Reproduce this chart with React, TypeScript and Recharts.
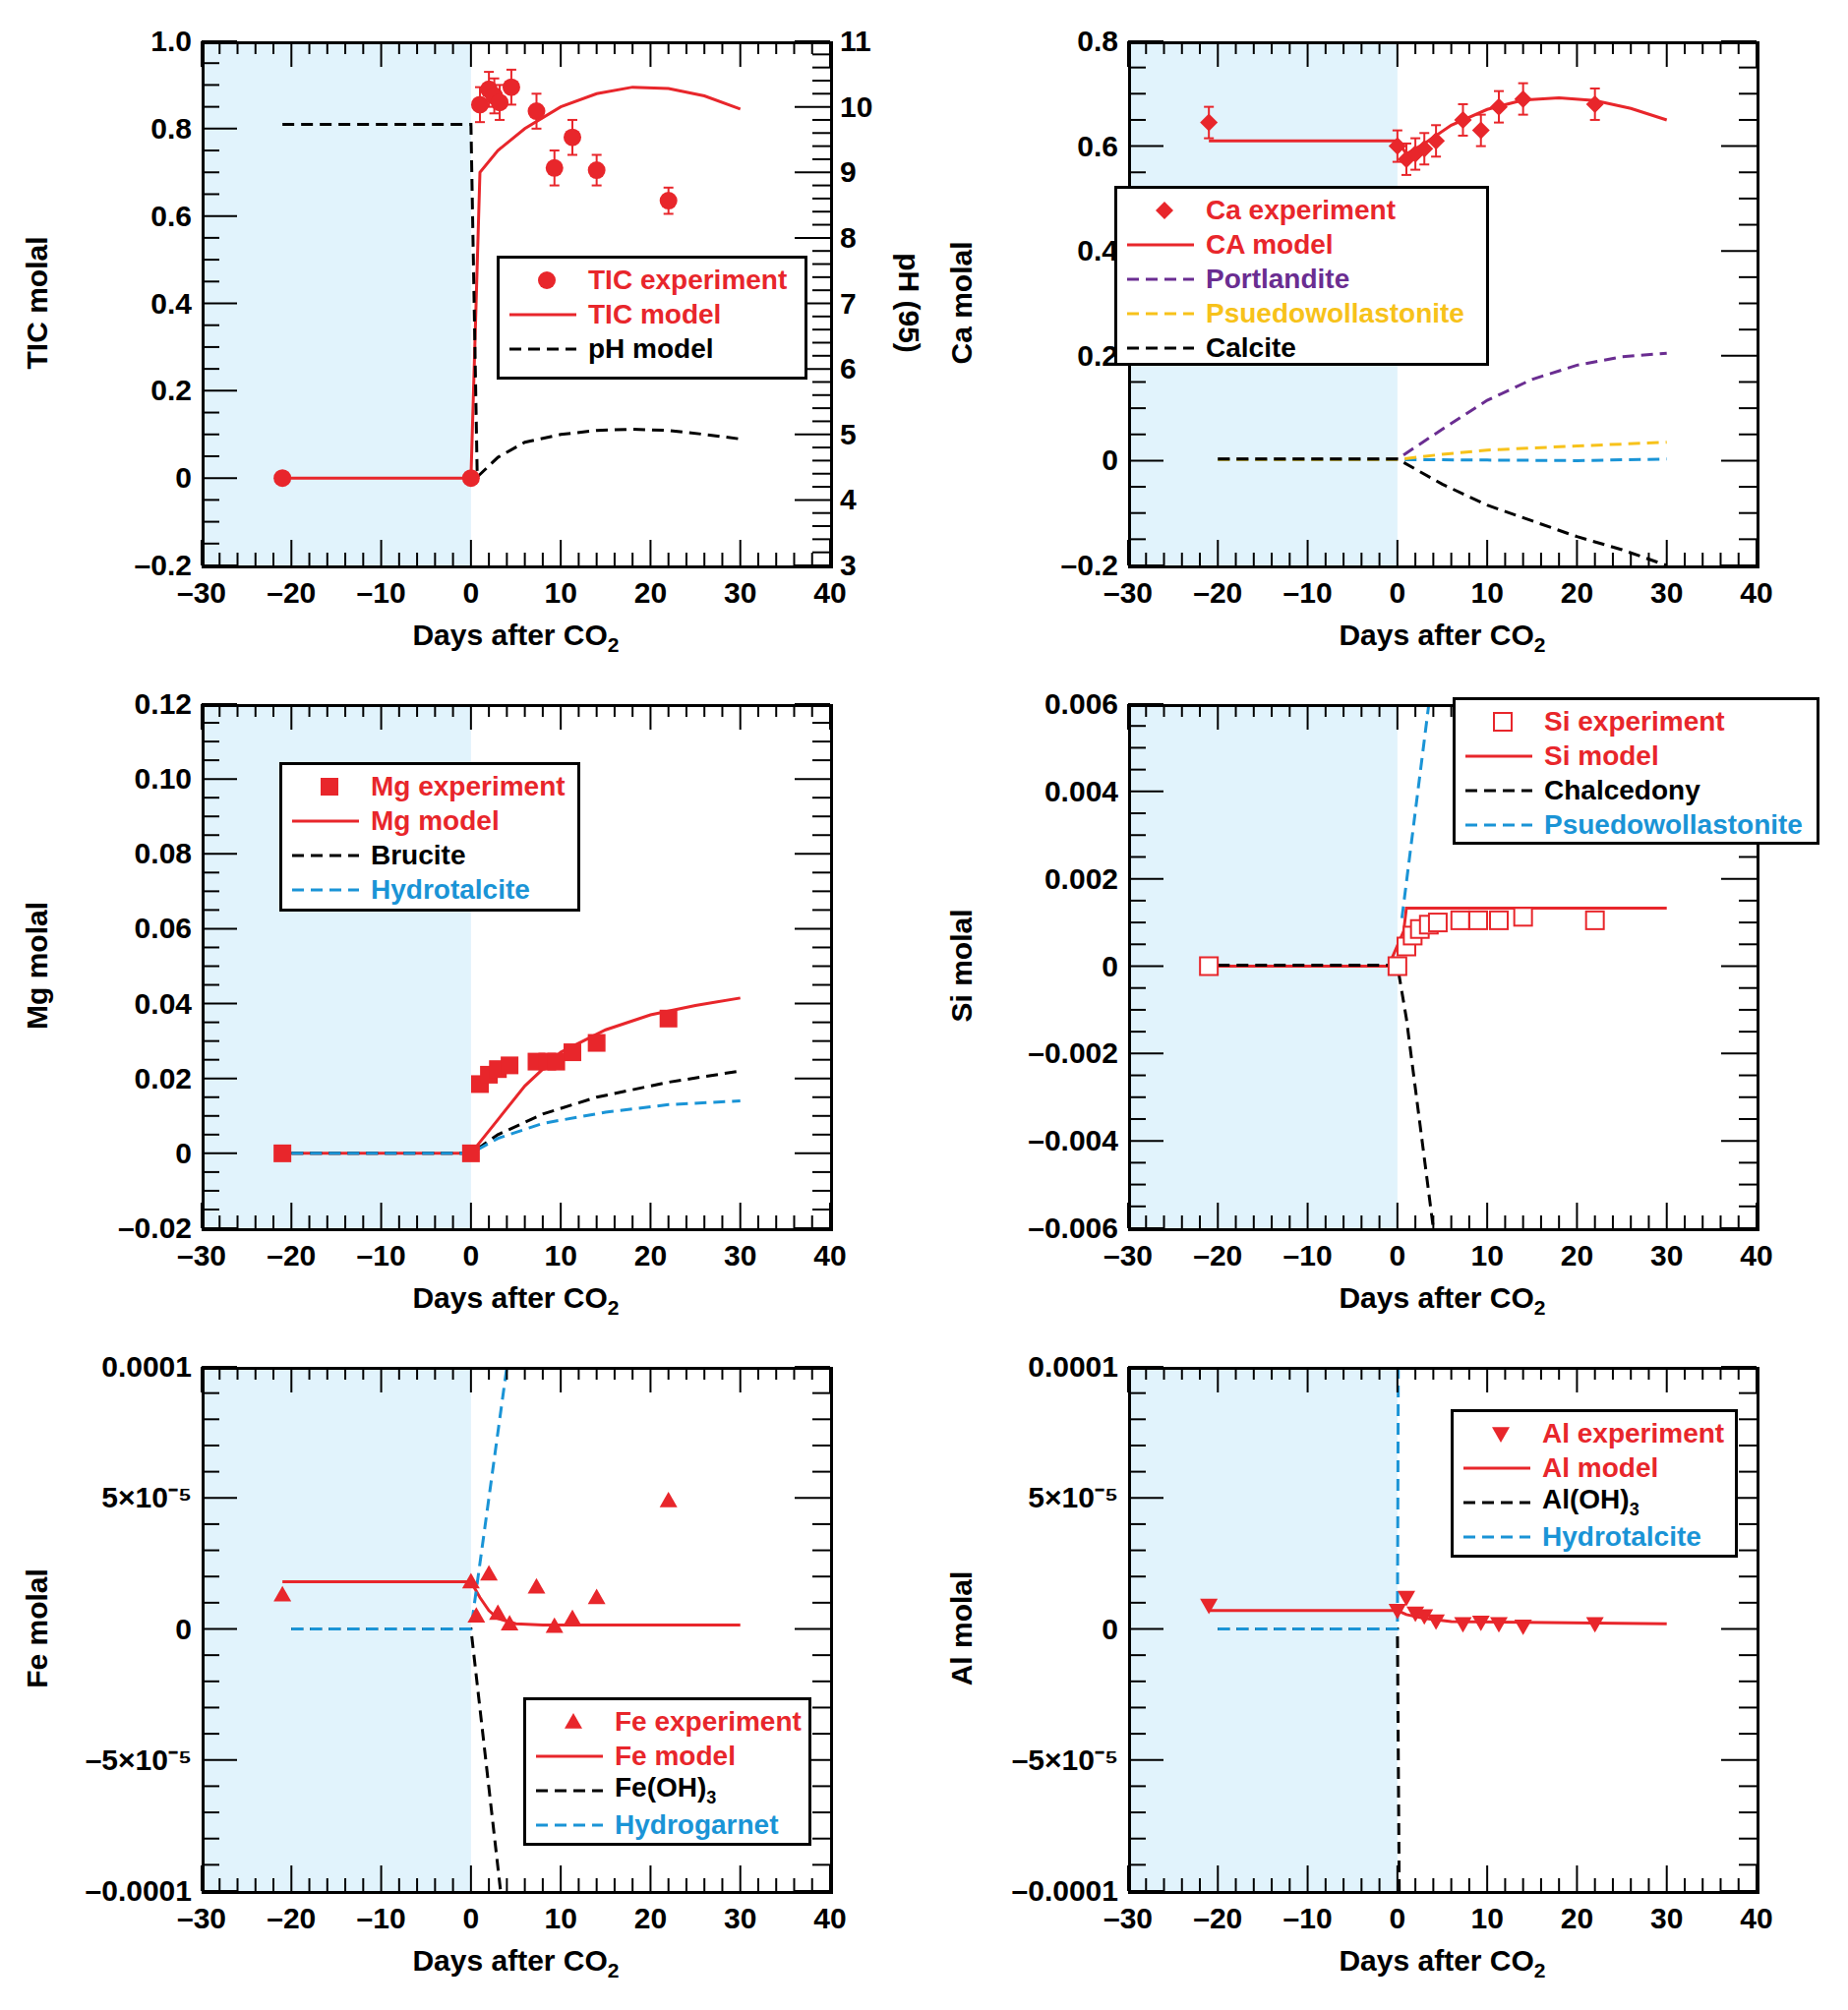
import React from "react";
import { ComposedChart, Line, Scatter, XAxis, YAxis, ReferenceArea, ErrorBar } from "recharts";

const RED = "#e8262b";
const BLUE = "#1a94d6";
const PURPLE = "#6a2d91";
const YELLOW = "#f7c21a";
const SHADE = "#e1f3fc";
const FONT = "'Liberation Sans', Arial, sans-serif";

// ---- data ----
const xTicks = [-30, -28, -26, -24, -22, -20, -18, -16, -14, -12, -10, -8, -6, -4, -2, 0, 2, 4, 6, 8, 10, 12, 14, 16, 18, 20, 22, 24, 26, 28, 30, 32, 34, 36, 38, 40];

const ticExp = [
  { x: -21, y: 0, e: 0 }, { x: 0, y: 0, e: 0 }, { x: 1, y: 0.855, e: 0.04 }, { x: 2, y: 0.89, e: 0.04 },
  { x: 2.6, y: 0.875, e: 0.04 }, { x: 3.2, y: 0.86, e: 0.04 }, { x: 4.5, y: 0.895, e: 0.04 },
  { x: 7.3, y: 0.84, e: 0.04 }, { x: 9.3, y: 0.71, e: 0.04 }, { x: 11.3, y: 0.78, e: 0.04 },
  { x: 14, y: 0.705, e: 0.035 }, { x: 22, y: 0.635, e: 0.03 },
];
const ticModel = [
  { x: -21, y: 0 }, { x: 0, y: 0 }, { x: 1, y: 0.7 }, { x: 3, y: 0.75 }, { x: 6, y: 0.8 }, { x: 10, y: 0.85 },
  { x: 14, y: 0.88 }, { x: 18, y: 0.895 }, { x: 22, y: 0.892 }, { x: 26, y: 0.875 }, { x: 30, y: 0.845 },
];
const phModel = [
  { x: -21, y: 9.73 }, { x: 0, y: 9.73 }, { x: 0.7, y: 4.35 }, { x: 3, y: 4.65 }, { x: 6, y: 4.88 },
  { x: 10, y: 5.0 }, { x: 14, y: 5.06 }, { x: 18, y: 5.08 }, { x: 22, y: 5.06 }, { x: 26, y: 5.0 }, { x: 30, y: 4.93 },
];

const caExp = [
  { x: -21, y: 0.645, e: 0.03 }, { x: 0, y: 0.6, e: 0.03 }, { x: 1, y: 0.575, e: 0.03 }, { x: 2, y: 0.585, e: 0.03 },
  { x: 3, y: 0.595, e: 0.03 }, { x: 4.3, y: 0.61, e: 0.03 }, { x: 7.3, y: 0.65, e: 0.03 }, { x: 9.3, y: 0.63, e: 0.03 },
  { x: 11.3, y: 0.675, e: 0.03 }, { x: 14, y: 0.69, e: 0.03 }, { x: 22, y: 0.68, e: 0.03 },
];
const caModel = [
  { x: -21, y: 0.61 }, { x: 0, y: 0.61 }, { x: 1, y: 0.585 }, { x: 3, y: 0.605 }, { x: 6, y: 0.64 }, { x: 10, y: 0.67 },
  { x: 14, y: 0.688 }, { x: 18, y: 0.692 }, { x: 22, y: 0.687 }, { x: 26, y: 0.672 }, { x: 30, y: 0.65 },
];
const portlandite = [
  { x: -20, y: 0.003 }, { x: 0, y: 0.003 }, { x: 5, y: 0.06 }, { x: 10, y: 0.115 }, { x: 15, y: 0.155 },
  { x: 20, y: 0.182 }, { x: 25, y: 0.198 }, { x: 30, y: 0.205 },
];
const caPseudo = [
  { x: -20, y: 0.002 }, { x: 0, y: 0.002 }, { x: 5, y: 0.012 }, { x: 10, y: 0.02 }, { x: 20, y: 0.028 }, { x: 30, y: 0.035 },
];
const caBlue = [
  { x: -20, y: 0.002 }, { x: 0, y: 0.002 }, { x: 10, y: 0.001 }, { x: 20, y: 0.0 }, { x: 30, y: 0.003 },
];
const calcite = [
  { x: -20, y: 0.003 }, { x: 0, y: 0.003 }, { x: 5, y: -0.045 }, { x: 10, y: -0.085 }, { x: 15, y: -0.115 },
  { x: 20, y: -0.145 }, { x: 25, y: -0.17 }, { x: 30, y: -0.2 },
];

const mgExp = [
  { x: -21, y: 0 }, { x: 0, y: 0 }, { x: 1, y: 0.0185 }, { x: 2, y: 0.021 }, { x: 3, y: 0.0225 }, { x: 4.3, y: 0.0235 },
  { x: 7.3, y: 0.0245 }, { x: 8.5, y: 0.0245 }, { x: 9.5, y: 0.0245 }, { x: 11.3, y: 0.027 }, { x: 14, y: 0.0295 }, { x: 22, y: 0.036 },
];
const mgModel = [
  { x: -20, y: 0 }, { x: 0, y: 0 }, { x: 3, y: 0.009 }, { x: 6, y: 0.018 }, { x: 10, y: 0.027 }, { x: 15, y: 0.033 },
  { x: 20, y: 0.037 }, { x: 25, y: 0.0395 }, { x: 30, y: 0.0415 },
];
const brucite = [
  { x: -20, y: 0 }, { x: 0, y: 0 }, { x: 3, y: 0.005 }, { x: 8, y: 0.0105 }, { x: 14, y: 0.015 }, { x: 22, y: 0.019 }, { x: 30, y: 0.022 },
];
const mgHydrotalcite = [
  { x: -20, y: 0 }, { x: 0, y: 0 }, { x: 3, y: 0.004 }, { x: 8, y: 0.008 }, { x: 15, y: 0.011 }, { x: 22, y: 0.013 }, { x: 30, y: 0.014 },
];

const siExp = [
  { x: -21, y: 0 }, { x: 0, y: 0 }, { x: 1, y: 0.00045 }, { x: 1.7, y: 0.0007 }, { x: 2.5, y: 0.00085 }, { x: 3.5, y: 0.00095 },
  { x: 4.5, y: 0.001 }, { x: 7, y: 0.00105 }, { x: 9, y: 0.00105 }, { x: 11.3, y: 0.00105 }, { x: 14, y: 0.00113 }, { x: 22, y: 0.00105 },
];
const siModel = [
  { x: -20, y: 0 }, { x: -1, y: 0 }, { x: 0.7, y: 0.0008 }, { x: 1, y: 0.00133 }, { x: 30, y: 0.00133 },
];
const chalcedony = [
  { x: -20, y: 0.00002 }, { x: 0, y: 0.00002 }, { x: 1, y: -0.0012 }, { x: 4, y: -0.006 },
];
const siPseudo = [
  { x: 0.5, y: 0.0011 }, { x: 3.5, y: 0.006 },
];

const feExp = [
  { x: -21, y: 1.3e-5 }, { x: 0, y: 1.8e-5 }, { x: 0.6, y: 0.5e-5 }, { x: 2, y: 2.1e-5 }, { x: 3, y: 0.6e-5 },
  { x: 4.3, y: 0.2e-5 }, { x: 7.3, y: 1.6e-5 }, { x: 9.3, y: 0.1e-5 }, { x: 11.3, y: 0.4e-5 }, { x: 14, y: 1.2e-5 }, { x: 22, y: 4.9e-5 },
];
const feModel = [
  { x: -21, y: 1.8e-5 }, { x: 0, y: 1.8e-5 }, { x: 1, y: 1.2e-5 }, { x: 2, y: 0.7e-5 }, { x: 3, y: 0.4e-5 },
  { x: 5, y: 0.2e-5 }, { x: 8, y: 0.15e-5 }, { x: 30, y: 0.15e-5 },
];
const feOH3 = [
  { x: -20, y: 0 }, { x: 0, y: 0 }, { x: 3.3, y: -1e-4 },
];
const hydrogarnet = [
  { x: -20, y: 0 }, { x: 0, y: 0 }, { x: 4, y: 1e-4 },
];

const alExp = [
  { x: -21, y: 0.9e-5 }, { x: 0, y: 0.7e-5 }, { x: 1, y: 1.2e-5 }, { x: 2, y: 0.6e-5 }, { x: 3, y: 0.5e-5 },
  { x: 4.3, y: 0.3e-5 }, { x: 7.3, y: 0.2e-5 }, { x: 9.3, y: 0.25e-5 }, { x: 11.3, y: 0.2e-5 }, { x: 14, y: 0.1e-5 }, { x: 22, y: 0.2e-5 },
];
const alModel = [
  { x: -21, y: 0.7e-5 }, { x: 0, y: 0.7e-5 }, { x: 1, y: 0.55e-5 }, { x: 3, y: 0.4e-5 }, { x: 6, y: 0.28e-5 }, { x: 30, y: 0.2e-5 },
];
const alOH3 = [
  { x: -20, y: 0 }, { x: 0, y: 0 }, { x: 0.2, y: -1e-4 },
];
const alHydrotalcite = [
  { x: -20, y: 0 }, { x: 0, y: 0 }, { x: 0.1, y: 1e-4 },
];

// ---- layout ----
const CW = 940;
const CH = 673;
const MT = 40;
const PW = 639;
const PH = 533;
const YW = 80;
const XH = 30;

function range(a: number, b: number, s: number) {
  const out: number[] = [];
  const n = Math.round((b - a) / s);
  for (let i = 0; i <= n; i++) out.push(+(a + i * s).toPrecision(10));
  return out;
}
function isMajor(v: number, m: number) {
  const r = v / m;
  return Math.abs(r - Math.round(r)) < 1e-6;
}

function Marker({ kind, cx, cy, color = RED }: any) {
  const s = 9;
  if (kind === "circle") return <circle cx={cx} cy={cy} r={s} fill={color} />;
  if (kind === "diamond")
    return <polygon points={`${cx},${cy - s} ${cx + s},${cy} ${cx},${cy + s} ${cx - s},${cy}`} fill={color} />;
  if (kind === "square") return <rect x={cx - s} y={cy - s} width={2 * s} height={2 * s} fill={color} />;
  if (kind === "open") return <rect x={cx - s} y={cy - s} width={2 * s} height={2 * s} fill="#fff" stroke={color} strokeWidth={2} />;
  if (kind === "tri")
    return <polygon points={`${cx},${cy - s} ${cx + s},${cy + s * 0.75} ${cx - s},${cy + s * 0.75}`} fill={color} />;
  return <polygon points={`${cx},${cy + s} ${cx + s},${cy - s * 0.75} ${cx - s},${cy - s * 0.75}`} fill={color} />;
}

type Series = { data: any[]; color: string; dash?: boolean; axis?: string };
type Entry = { label: React.ReactNode; color: string; kind?: string; line?: boolean; dash?: boolean };

function Panel(props: {
  left: number; top: number; pl: number; yDomain: [number, number]; yMajor: number; yMinor: number;
  yFmt: (v: number) => string; ylabel: string; exp: any[]; kind: string; err?: boolean; lines: Series[];
  legend: Entry[]; legendBox: { x: number; y: number; w: number; h: number }; ph?: boolean;
}) {
  const { pl } = props;
  const plotR = pl + PW;
  const plotB = MT + PH;
  const yTicks = range(props.yDomain[0], props.yDomain[1], props.yMinor);

  const XTick = ({ x, payload }: any) => {
    const v = payload.value;
    const maj = isMajor(v, 10);
    const len = maj ? 26 : 13;
    return (
      <g>
        <line x1={x} x2={x} y1={plotB} y2={plotB - len} stroke="#000" strokeWidth={2} />
        <line x1={x} x2={x} y1={MT} y2={MT + len} stroke="#000" strokeWidth={2} />
        {maj && (
          <text x={x} y={plotB + 38} textAnchor="middle" fontSize={30} fontWeight="bold" fontFamily={FONT}>
            {v < 0 ? `\u2013${-v}` : v}
          </text>
        )}
      </g>
    );
  };
  const YTick = ({ y, payload }: any) => {
    const v = payload.value;
    const maj = isMajor(v, props.yMajor);
    const len = maj ? 36 : 18;
    return (
      <g>
        <line x1={pl} x2={pl + len} y1={y} y2={y} stroke="#000" strokeWidth={2} />
        {!props.ph && <line x1={plotR} x2={plotR - len} y1={y} y2={y} stroke="#000" strokeWidth={2} />}
        {maj && (
          <text x={pl - 10} y={y + 10} textAnchor="end" fontSize={30} fontWeight="bold" fontFamily={FONT}>
            {props.yFmt(v)}
          </text>
        )}
      </g>
    );
  };
  const PhTick = ({ y, payload }: any) => {
    const v = payload.value;
    const maj = isMajor(v, 1);
    const len = maj ? 36 : 18;
    return (
      <g>
        <line x1={plotR} x2={plotR - len} y1={y} y2={y} stroke="#000" strokeWidth={2} />
        {maj && (
          <text x={plotR + 10} y={y + 10} textAnchor="start" fontSize={30} fontWeight="bold" fontFamily={FONT}>
            {v}
          </text>
        )}
      </g>
    );
  };

  const rightM = CW - pl - PW - (props.ph ? 60 : 0);
  return (
    <div style={{ position: "absolute", left: props.left, top: props.top, width: CW, height: CH }}>
      <ComposedChart width={CW} height={CH} margin={{ top: MT, right: rightM, bottom: CH - MT - PH - XH, left: pl - YW }}>
        <XAxis type="number" dataKey="x" domain={[-30, 40]} ticks={xTicks} interval={0} height={XH} tick={<XTick />} tickLine={false} axisLine={false} allowDataOverflow />
        <YAxis yAxisId="l" type="number" domain={props.yDomain} ticks={yTicks} interval={0} width={YW} tick={<YTick />} tickLine={false} axisLine={false} allowDataOverflow />
        {props.ph && (
          <YAxis yAxisId="ph" orientation="right" type="number" domain={[3, 11]} ticks={range(3, 11, 0.2)} interval={0} width={60} tick={<PhTick />} tickLine={false} axisLine={false} allowDataOverflow />
        )}
        <ReferenceArea yAxisId="l" x1={-30} x2={0} y1={props.yDomain[0]} y2={props.yDomain[1]} fill={SHADE} fillOpacity={1} stroke="none" />
        {props.lines.map((s, i) => (
          <Line key={i} yAxisId={s.axis || "l"} data={s.data} dataKey="y" type="linear" stroke={s.color} strokeWidth={3}
            strokeDasharray={s.dash ? "12 7" : undefined} dot={false} isAnimationActive={false} />
        ))}
        <Scatter yAxisId="l" data={props.exp} dataKey="y" isAnimationActive={false}
          shape={(p: any) => <Marker kind={props.kind} cx={p.cx} cy={p.cy} />}>
          {props.err && <ErrorBar dataKey="e" direction="y" width={5} stroke={RED} strokeWidth={2} />}
        </Scatter>
      </ComposedChart>
      <div style={{ position: "absolute", left: pl, top: MT, width: PW - 3, height: PH - 3, border: "3px solid #000", pointerEvents: "none" }} />
      <div style={{ position: "absolute", left: pl, width: PW, top: plotB + 54, textAlign: "center", fontFamily: FONT, fontWeight: "bold", fontSize: 30 }}>
        Days after CO<sub style={{ fontSize: 21 }}>2</sub>
      </div>
      <div style={{ position: "absolute", left: 38 - 200, width: 400, top: MT + PH / 2 - 18, textAlign: "center", transform: "rotate(-90deg)", fontFamily: FONT, fontWeight: "bold", fontSize: 30 }}>
        {props.ylabel}
      </div>
      {props.ph && (
        <div style={{ position: "absolute", left: plotR + 80 - 200, width: 400, top: MT + PH / 2 - 18, textAlign: "center", transform: "rotate(90deg)", fontFamily: FONT, fontWeight: "bold", fontSize: 30 }}>
          pH (95)
        </div>
      )}
      <div style={{ position: "absolute", left: props.legendBox.x, top: props.legendBox.y, width: props.legendBox.w, height: props.legendBox.h,
        border: "3px solid #000", background: "#fff", boxSizing: "border-box", padding: "4px 8px", fontFamily: FONT, fontWeight: "bold", fontSize: 28 }}>
        {props.legend.map((e, i) => (
          <div key={i} style={{ display: "flex", alignItems: "center", height: 35, color: e.color, whiteSpace: "nowrap" }}>
            <svg width={72} height={30} style={{ marginRight: 10, flex: "none" }}>
              {e.kind ? <Marker kind={e.kind} cx={40} cy={15} color={e.color} /> :
                <line x1={2} x2={70} y1={15} y2={15} stroke={e.color} strokeWidth={3} strokeDasharray={e.dash ? "12 7" : undefined} />}
            </svg>
            <span>{e.label}</span>
          </div>
        ))}
      </div>
    </div>
  );
}

const dec = (d: number) => (v: number) => (Math.abs(v) < 1e-12 ? "0" : v < 0 ? `\u2013${(-v).toFixed(d)}` : v.toFixed(d));
const sci = (v: number) => {
  if (Math.abs(v) < 1e-12) return "0";
  if (Math.abs(Math.abs(v) - 1e-4) < 1e-9) return v < 0 ? "\u20130.0001" : "0.0001";
  return v < 0 ? "\u20135\u00d710\u207b\u2075" : "5\u00d710\u207b\u2075";
};

export default function App() {
  const LX = 0;
  const RX = 940;
  const rows = [2, 676, 1350];
  return (
    <div style={{ position: "absolute", left: 0, top: 0, width: 1879, height: 2044, background: "#fff" }}>
      <Panel left={LX} top={rows[0]} pl={205} yDomain={[-0.2, 1.0]} yMajor={0.2} yMinor={0.05}
        yFmt={(v) => (Math.abs(v - 1) < 1e-9 ? "1.0" : Math.abs(v) < 1e-9 ? "0" : v < 0 ? `\u2013${(-v).toFixed(1)}` : v.toFixed(1))}
        ylabel="TIC molal" exp={ticExp} kind="circle" err ph
        lines={[{ data: ticModel, color: RED }, { data: phModel, color: "#000", dash: true, axis: "ph" }]}
        legend={[{ label: "TIC experiment", color: RED, kind: "circle" }, { label: "TIC model", color: RED }, { label: "pH model", color: "#000", dash: true }]}
        legendBox={{ x: 505, y: 258, w: 316, h: 126 }} />
      <Panel left={RX} top={rows[0]} pl={207} yDomain={[-0.2, 0.8]} yMajor={0.2} yMinor={0.05}
        yFmt={(v) => (Math.abs(v) < 1e-9 ? "0" : v < 0 ? `\u2013${(-v).toFixed(1)}` : v.toFixed(1))}
        ylabel="Ca molal" exp={caExp} kind="diamond" err
        lines={[{ data: caModel, color: RED }, { data: portlandite, color: PURPLE, dash: true }, { data: caBlue, color: BLUE, dash: true },
          { data: caPseudo, color: YELLOW, dash: true }, { data: calcite, color: "#000", dash: true }]}
        legend={[{ label: "Ca experiment", color: RED, kind: "diamond" }, { label: "CA model", color: RED },
          { label: "Portlandite", color: PURPLE, dash: true }, { label: "Psuedowollastonite", color: YELLOW, dash: true }, { label: "Calcite", color: "#000", dash: true }]}
        legendBox={{ x: 193, y: 187, w: 381, h: 183 }} />
      <Panel left={LX} top={rows[1]} pl={205} yDomain={[-0.02, 0.12]} yMajor={0.02} yMinor={0.005}
        yFmt={dec(2)} ylabel="Mg molal" exp={mgExp} kind="square"
        lines={[{ data: mgModel, color: RED }, { data: brucite, color: "#000", dash: true }, { data: mgHydrotalcite, color: BLUE, dash: true }]}
        legend={[{ label: "Mg experiment", color: RED, kind: "square" }, { label: "Mg model", color: RED },
          { label: "Brucite", color: "#000", dash: true }, { label: "Hydrotalcite", color: BLUE, dash: true }]}
        legendBox={{ x: 284, y: 99, w: 306, h: 152 }} />
      <Panel left={RX} top={rows[1]} pl={207} yDomain={[-0.006, 0.006]} yMajor={0.002} yMinor={0.0005}
        yFmt={dec(3)} ylabel="Si molal" exp={siExp} kind="open"
        lines={[{ data: siModel, color: RED }, { data: chalcedony, color: "#000", dash: true }, { data: siPseudo, color: BLUE, dash: true }]}
        legend={[{ label: "Si experiment", color: RED, kind: "open" }, { label: "Si model", color: RED },
          { label: "Chalcedony", color: "#000", dash: true }, { label: "Psuedowollastonite", color: BLUE, dash: true }]}
        legendBox={{ x: 537, y: 33, w: 373, h: 150 }} />
      <Panel left={LX} top={rows[2]} pl={205} yDomain={[-1e-4, 1e-4]} yMajor={5e-5} yMinor={1e-5}
        yFmt={sci} ylabel="Fe molal" exp={feExp} kind="tri"
        lines={[{ data: feModel, color: RED }, { data: feOH3, color: "#000", dash: true }, { data: hydrogarnet, color: BLUE, dash: true }]}
        legend={[{ label: "Fe experiment", color: RED, kind: "tri" }, { label: "Fe model", color: RED },
          { label: <>Fe(OH)<sub style={{ fontSize: 18 }}>3</sub></>, color: "#000", dash: true }, { label: "Hydrogarnet", color: BLUE, dash: true }]}
        legendBox={{ x: 532, y: 376, w: 293, h: 151 }} />
      <Panel left={RX} top={rows[2]} pl={207} yDomain={[-1e-4, 1e-4]} yMajor={5e-5} yMinor={1e-5}
        yFmt={sci} ylabel="Al molal" exp={alExp} kind="down"
        lines={[{ data: alModel, color: RED }, { data: alOH3, color: "#000", dash: true }, { data: alHydrotalcite, color: BLUE, dash: true }]}
        legend={[{ label: "Al experiment", color: RED, kind: "down" }, { label: "Al model", color: RED },
          { label: <>Al(OH)<sub style={{ fontSize: 18 }}>3</sub></>, color: "#000", dash: true }, { label: "Hydrotalcite", color: BLUE, dash: true }]}
        legendBox={{ x: 535, y: 83, w: 292, h: 151 }} />
    </div>
  );
}
